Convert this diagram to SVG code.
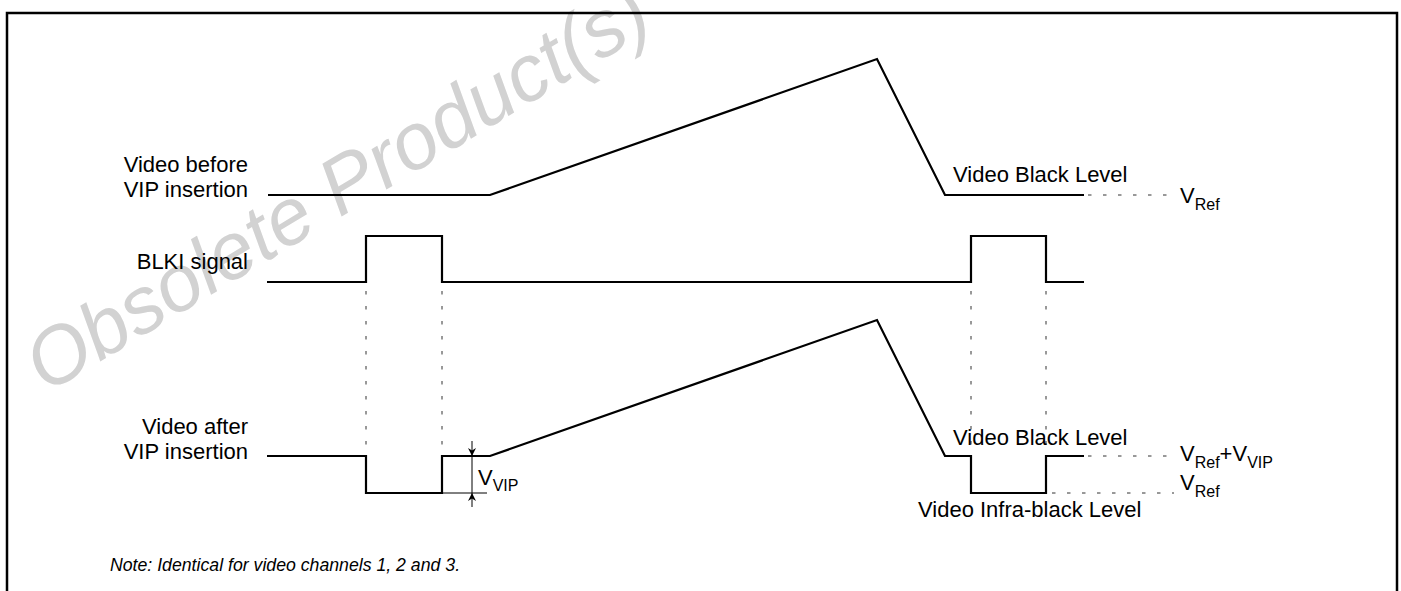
<svg xmlns="http://www.w3.org/2000/svg" width="1401" height="591" viewBox="0 0 1401 591">
<style>
.sig{fill:none;stroke:#000;stroke-width:2.2;stroke-linejoin:miter}
.dash{fill:none;stroke:#333;stroke-width:1;stroke-dasharray:3.5,11.5}
.thin{fill:none;stroke:#000;stroke-width:1}
.lbl{font-family:"Liberation Sans",Arial,sans-serif;font-size:22px;fill:#000}
.sub{font-size:16px}
.note{font-family:"Liberation Sans",Arial,sans-serif;font-size:17.7px;font-style:italic;fill:#000}
.wm{font-family:"Liberation Sans",Arial,sans-serif;font-size:80px;font-style:italic;fill:#d2d2d2}
</style>
<defs>
<marker id="arr" viewBox="0 0 10 10" refX="10" refY="5" markerWidth="12" markerHeight="8" markerUnits="userSpaceOnUse" orient="auto">
<path d="M0,0 L10,5 L0,10 L3,5 Z" fill="#000"/>
</marker>
</defs>
<rect width="1401" height="591" fill="#fff"/>
<text class="wm" transform="translate(46,394) rotate(-31)">Obsolete Product(s)</text>
<rect x="7" y="13" width="1390" height="620" fill="none" stroke="#000" stroke-width="2.5"/>

<g id="connectors">
<line class="dash" x1="366" y1="291" x2="366" y2="452"/>
<line class="dash" x1="442" y1="291" x2="442" y2="452"/>
<line class="dash" x1="971" y1="291" x2="971" y2="452"/>
<line class="dash" x1="1046" y1="291" x2="1046" y2="452"/>
<line class="dash" x1="1088" y1="195" x2="1174" y2="195"/>
<line class="dash" x1="1088" y1="456" x2="1174" y2="456"/>
<line class="dash" x1="1052" y1="493" x2="1174" y2="493"/>
<line class="thin" x1="442" y1="493" x2="487" y2="493"/>
<line class="thin" x1="472" y1="441" x2="472" y2="456" marker-end="url(#arr)"/>
<line class="thin" x1="472" y1="507" x2="472" y2="493" marker-end="url(#arr)"/>
<line class="thin" x1="472" y1="456" x2="472" y2="493"/>
</g>

<g id="video-before">
<polyline class="sig" points="268,195 490,195 877,59 945,195 1084,195"/>
<text class="lbl" x="248" y="172" text-anchor="end">Video before</text>
<text class="lbl" x="248" y="197" text-anchor="end">VIP insertion</text>
<text class="lbl" x="953" y="182">Video Black Level</text>
<text class="lbl" x="1180" y="203">V<tspan class="sub" dy="7">Ref</tspan></text>
</g>

<g id="blki-signal">
<polyline class="sig" points="267,282 366,282 366,236 442,236 442,282 971,282 971,236 1046,236 1046,282 1084,282"/>
<text class="lbl" x="248" y="269" text-anchor="end">BLKI signal</text>
</g>

<g id="video-after">
<polyline class="sig" points="267,456 366,456 366,493 442,493 442,456 490,456 877,320 945,456 971,456 971,493 1046,493 1046,456 1084,456"/>
<text class="lbl" x="248" y="434" text-anchor="end">Video after</text>
<text class="lbl" x="248" y="459" text-anchor="end">VIP insertion</text>
<text class="lbl" x="953" y="445">Video Black Level</text>
<text class="lbl" x="918" y="517">Video Infra-black Level</text>
<text class="lbl" x="1180" y="461">V<tspan class="sub" dy="7">Ref</tspan><tspan dy="-7">+V</tspan><tspan class="sub" dy="7">VIP</tspan></text>
<text class="lbl" x="1180" y="490">V<tspan class="sub" dy="7">Ref</tspan></text>
</g>

<g id="vvip">
<text class="lbl" x="478" y="485">V<tspan class="sub" dy="6">VIP</tspan></text>
</g>

<g id="note">
<text class="note" x="110" y="571">Note: Identical for video channels 1, 2 and 3.</text>
</g>
</svg>
